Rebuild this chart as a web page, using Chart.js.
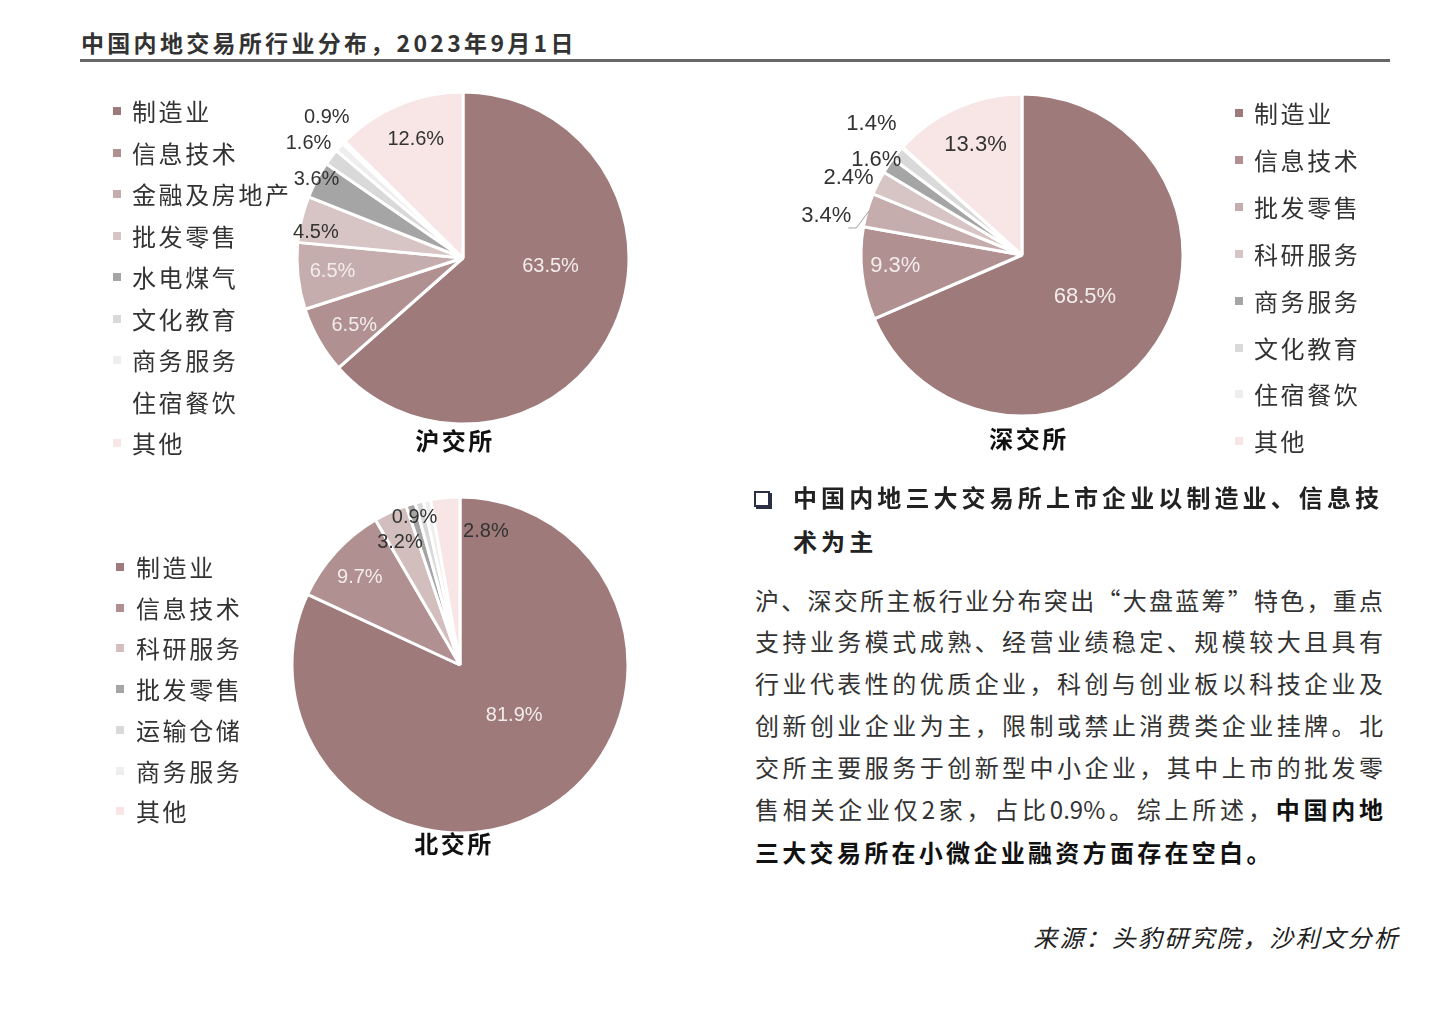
<!DOCTYPE html>
<html>
<head>
<meta charset="utf-8">
<script src="https://cdn.jsdelivr.net/npm/chart.js@4.4.0/dist/chart.umd.min.js"></script>
<style>
  body { margin: 0; background: #fff; }
  #page { position: relative; width: 1446px; height: 1020px; overflow: hidden; background: #fff;
          font-family: "Noto Sans CJK SC", sans-serif; color: #333; }
  canvas { position: absolute; }
  .abs { position: absolute; white-space: nowrap; }
  #title { left: 81px; top: 25px; font-size: 23px; letter-spacing: 3.3px; font-weight: 600; line-height: 34px; }
  #rule { left: 80px; top: 59px; width: 1310px; height: 3px; background: #666; }
  .legend-item { position: absolute; font-size: 24px; letter-spacing: 2.6px; line-height: 32px; height: 32px; color: #333; }
  .legend-item i { position: absolute; width: 8px; height: 8px; top: 12px; }
  .pie-title { font-size: 24px; font-weight: 600; letter-spacing: 2.5px; color: #111; line-height: 32px; transform: translateX(-50%); }
  .box { position: absolute; left: 754px; top: 491px; width: 12px; height: 12px; border: 2px solid #2b2f45; box-shadow: 2px 2px 0 #2b2f45; }
  .head { font-size: 24px; font-weight: 700; letter-spacing: 4.1px; color: #222; line-height: 32px; }
  .body-line { position: absolute; left: 755px; width: 628px; font-size: 24px; line-height: 32px; color: #333;
               text-align: justify; text-align-last: justify; white-space: nowrap; }
  .body-line b { color: #111; }
  #source { right: 46px; top: 921px; font-size: 24px; letter-spacing: 2.2px; font-style: italic; line-height: 32px; color: #222; }
</style>
</head>
<body>
<div id="page">
  <div id="title" class="abs">中国内地交易所行业分布，2023年9月1日</div>
  <div id="rule" class="abs"></div>

  <canvas id="shChart"></canvas>
  <canvas id="szChart"></canvas>
  <canvas id="bjChart"></canvas>

  <div class="abs pie-title" style="left:455px;top:424px">沪交所</div>
  <div class="abs pie-title" style="left:1029px;top:422px">深交所</div>
  <div class="abs pie-title" style="left:454px;top:827px">北交所</div>

  <div class="box"></div>
  <div class="abs head" style="left:793px;top:481px">中国内地三大交易所上市企业以制造业、信息技</div>
  <div class="abs head" style="left:793px;top:525px">术为主</div>

  <div class="body-line" style="top:584px">沪、深交所主板行业分布突出“大盘蓝筹”特色，重点</div>
  <div class="body-line" style="top:625px">支持业务模式成熟、经营业绩稳定、规模较大且具有</div>
  <div class="body-line" style="top:667px">行业代表性的优质企业，科创与创业板以科技企业及</div>
  <div class="body-line" style="top:709px">创新创业企业为主，限制或禁止消费类企业挂牌。北</div>
  <div class="body-line" style="top:751px">交所主要服务于创新型中小企业，其中上市的批发零</div>
  <div class="body-line" style="top:793px">售相关企业仅2家，占比0.9%。综上所述，<b>中国内地</b></div>
  <div class="body-line" style="top:836px;text-align:left;text-align-last:left;letter-spacing:3.3px"><b>三大交易所在小微企业融资方面存在空白。</b></div>

  <div id="source" class="abs">来源：头豹研究院，沙利文分析</div>
</div>

<script>
// 沪交所
const shLabels = ["制造业", "信息技术", "金融及房地产", "批发零售", "水电煤气", "文化教育", "商务服务", "住宿餐饮", "其他"];
const shValues = [63.5, 6.5, 6.5, 4.5, 3.6, 1.6, 0.9, 0.3, 12.6];
// 深交所
const szLabels = ["制造业", "信息技术", "批发零售", "科研服务", "商务服务", "文化教育", "住宿餐饮", "其他"];
const szValues = [68.5, 9.3, 3.4, 2.4, 1.6, 1.4, 0.1, 13.3];
// 北交所
const bjLabels = ["制造业", "信息技术", "科研服务", "批发零售", "运输仓储", "商务服务", "其他"];
const bjValues = [81.9, 9.7, 3.2, 0.9, 0.8, 0.7, 2.8];

const shColors = ["#9E7A7A", "#B09090", "#C6ADAD", "#D7C4C4", "#A5A5A5", "#D9D9D9", "#EEEEEE", "#FFFFFF", "#F8E5E6"];
const szColors = ["#9E7A7A", "#B09090", "#C6ADAD", "#D7C4C4", "#A5A5A5", "#D9D9D9", "#EEEEEE", "#F8E5E6"];
const bjColors = ["#9E7A7A", "#B09090", "#D3BEBE", "#A5A5A5", "#D9D9D9", "#EEEEEE", "#F8E5E6"];

// label placement: [radius factor, angle shift in degrees, light text?, leader line?]  null = no label
const shPlace = [[0.53, -18.5, 1], [0.77, -2, 1], [0.79, 0.6, 1], [0.9, -3.5, 0], [1.0, 0, 0], [1.16, -0.8, 0], [1.18, 4, 0], null, [0.77, 1, 0]];
const szPlace = [[0.47, 0.4, 1], [0.79, 1.7, 1], [1.24, -4.9, 0, 1], [1.18, -2.6, 0], [1.08, -0.8, 0], [1.24, 1.8, 0], null, [0.74, 1, 0]];
const bjPlace = [[0.44, -14.6, 1], [0.79, -1.3, 1], [0.81, -1.7, 0], [0.92, 0, 0], null, null, [0.81, 16, 0]];

const pctLabels = {
  id: 'pctLabels',
  afterDatasetsDraw(chart) {
    const ctx = chart.ctx;
    const place = chart.options.plugins.pctLabels.place;
    const size = chart.options.plugins.pctLabels.size;
    const values = chart.data.datasets[0].data;
    chart.getDatasetMeta(0).data.forEach((arc, i) => {
      const p = place[i];
      if (!p) return;
      const a = arc.getProps(['x', 'y', 'startAngle', 'endAngle', 'outerRadius'], true);
      const mid = (a.startAngle + a.endAngle) / 2;
      const ang = mid + p[1] * Math.PI / 180;
      const lx = a.x + Math.cos(ang) * a.outerRadius * p[0];
      const ly = a.y + Math.sin(ang) * a.outerRadius * p[0];
      const txt = values[i].toFixed(1) + '%';
      ctx.save();
      ctx.font = size + 'px "Liberation Sans", Arial, sans-serif';
      ctx.textAlign = 'center';
      ctx.textBaseline = 'middle';
      ctx.fillStyle = p[2] ? '#F3ECEC' : '#333333';
      ctx.fillText(txt, lx, ly);
      if (p[3]) {
        // leader line
        const w = ctx.measureText(txt).width;
        const sx = lx + w / 2 - 3, sy = ly + size * 0.55;
        const ex = a.x + Math.cos(mid) * (a.outerRadius - 2);
        const ey = a.y + Math.sin(mid) * (a.outerRadius - 2);
        ctx.strokeStyle = '#A0A0A0';
        ctx.lineWidth = 1;
        ctx.beginPath();
        ctx.moveTo(sx, sy);
        ctx.lineTo(sx + 8, sy);
        ctx.lineTo(ex, ey);
        ctx.stroke();
      }
      ctx.restore();
    });
  }
};

function makePie(id, labels, values, colors, place, cx, cy, R, fontSize) {
  const m = 90;
  const S = 2 * (R + m);
  const cv = document.getElementById(id);
  cv.width = S; cv.height = S;
  cv.style.width = S + 'px'; cv.style.height = S + 'px';
  cv.style.left = (cx - R - m) + 'px';
  cv.style.top = (cy - R - m) + 'px';
  new Chart(cv, {
    type: 'pie',
    data: {
      labels: labels,
      datasets: [{
        data: values,
        backgroundColor: colors,
        borderColor: '#FFFFFF',
        borderWidth: 3,
        radius: R
      }]
    },
    options: {
      responsive: false,
      animation: false,
      layout: { padding: m },
      plugins: {
        legend: { display: false },
        tooltip: { enabled: false },
        pctLabels: { place: place, size: fontSize }
      }
    },
    plugins: [pctLabels]
  });
}

function makeLegend(labels, colors, markerX, textX, y0, step) {
  const page = document.getElementById('page');
  labels.forEach((lab, i) => {
    const d = document.createElement('div');
    d.className = 'legend-item';
    d.style.left = markerX + 'px';
    d.style.top = (y0 + i * step - 16) + 'px';
    d.style.paddingLeft = (textX - markerX) + 'px';
    d.innerHTML = '<i style="left:0;background:' + colors[i] + '"></i>' + lab;
    page.appendChild(d);
  });
}

makePie('shChart', shLabels, shValues, shColors, shPlace, 463, 258, 166, 20);
makePie('szChart', szLabels, szValues, szColors, szPlace, 1022, 255, 161, 22);
makePie('bjChart', bjLabels, bjValues, bjColors, bjPlace, 460, 665, 168, 20);

makeLegend(shLabels, shColors, 113, 132, 111, 41.5);
makeLegend(szLabels, szColors, 1235, 1254, 113, 46.9);
makeLegend(bjLabels, bjColors, 116, 136, 567, 40.7);
</script>
</body>
</html>
